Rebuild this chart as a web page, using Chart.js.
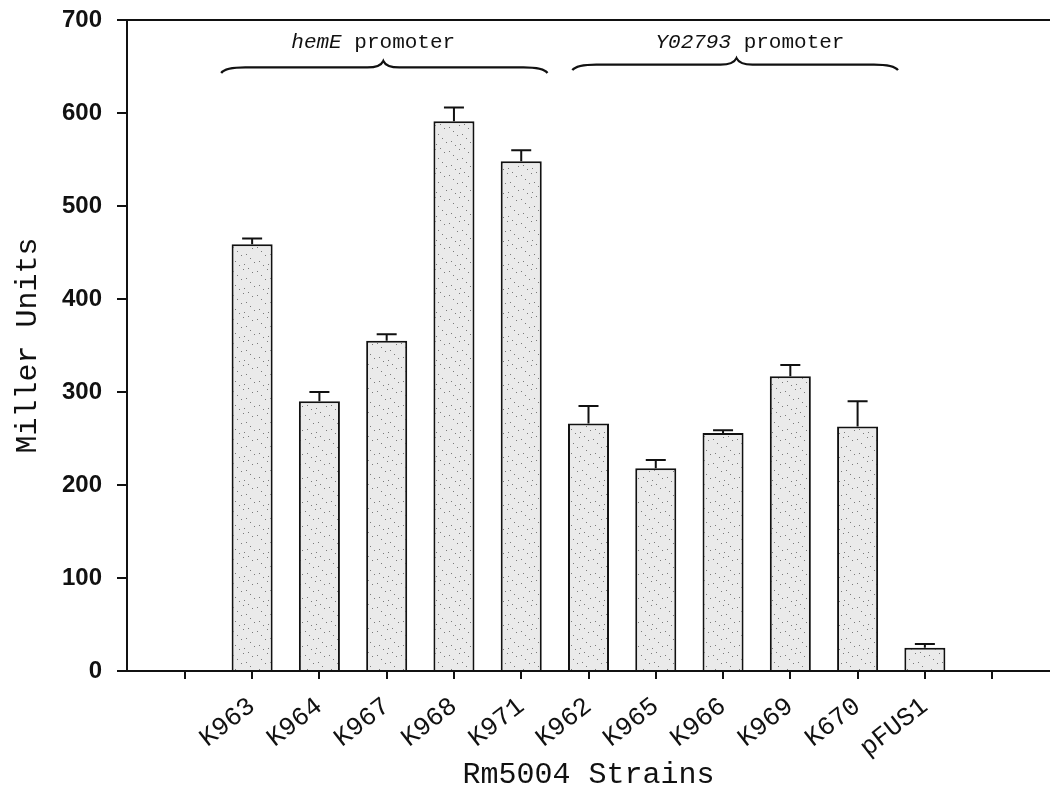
<!DOCTYPE html>
<html>
<head>
<meta charset="utf-8">
<script src="https://cdn.jsdelivr.net/npm/chart.js@4"></script>
<style>
  body{ margin:0; background:#fff; }
</style>
</head>
<body>
<canvas id="strainChart" width="1050" height="794"></canvas>
<script>
// values
const strains = ["K963","K964","K967","K968","K971","K962","K965","K966","K969","K670","pFUS1"];
const millerUnits = [459, 290, 355, 591, 548, 266, 218, 256, 317, 263, 25];
const errorUp = [6, 10, 7, 15, 12, 19, 9, 3, 12, 27, 4];
const slots = [0,1,2,3,4,5,6,7,8,9,10,11,12];
const yTicks = [0,100,200,300,400,500,600,700];
const groupItalic = ["hemE", "Y02793"];
const groupRest = [" promoter", " promoter"];

// light speckled fill like the scanned bars
function speckle(){
    const c = document.createElement("canvas");
    c.width = 24; c.height = 24;
    const g = c.getContext("2d");
    g.fillStyle = "#eaeaea";
    g.fillRect(0, 0, 24, 24);
    g.fillStyle = "#7a7a7a";
    for(let k = 0; k < 12; k++){
        g.fillRect((k * 11 + 3) % 24, (k * 17 + 5) % 24, 1, 1);
    }
    return g.createPattern(c, "repeat");
}

const errorBars = {
    id: "errorBars",
    afterDatasetsDraw(chart){
        const {ctx, scales: {y}} = chart;
        const meta = chart.getDatasetMeta(0);
        ctx.save();
        ctx.strokeStyle = "#111";
        ctx.lineWidth = 2;
        meta.data.forEach((bar, i) => {
            const top = y.getPixelForValue(millerUnits[i] + errorUp[i]);
            ctx.beginPath();
            ctx.moveTo(bar.x, bar.y);
            ctx.lineTo(bar.x, top);
            ctx.moveTo(bar.x - 10, top);
            ctx.lineTo(bar.x + 10, top);
            ctx.stroke();
        });
        ctx.restore();
    }
};

// top frame line + the two braces with their labels
const braces = {
    id: "braces",
    afterDraw(chart, args, opts){
        const {ctx, chartArea, scales: {x, y}} = chart;
        ctx.save();
        ctx.strokeStyle = "#111";
        ctx.lineWidth = 2;
        ctx.beginPath();
        ctx.moveTo(chartArea.left, chartArea.top);
        ctx.lineTo(chartArea.right, chartArea.top);
        ctx.stroke();

        opts.spans.forEach((s, i) => {
            const x0 = x.getPixelForValue(s.from);
            const x1 = x.getPixelForValue(s.to);
            const xc = x.getPixelForValue(s.mid);
            const yE = y.getPixelForValue(s.level - 6);
            const yH = y.getPixelForValue(s.level);
            const yP = y.getPixelForValue(s.level + 7);
            ctx.lineWidth = 2.2;
            ctx.beginPath();
            ctx.moveTo(x0, yE);
            ctx.quadraticCurveTo(x0 + 4, yH, x0 + 24, yH);
            ctx.lineTo(xc - 16, yH);
            ctx.quadraticCurveTo(xc - 3, yH, xc, yP);
            ctx.quadraticCurveTo(xc + 3, yH, xc + 16, yH);
            ctx.lineTo(x1 - 24, yH);
            ctx.quadraticCurveTo(x1 - 4, yH, x1, yE);
            ctx.stroke();

            const ty = y.getPixelForValue(opts.textLevel);
            ctx.fillStyle = "#111";
            ctx.textBaseline = "alphabetic";
            ctx.font = "italic 21px 'Liberation Mono'";
            const w1 = ctx.measureText(groupItalic[i]).width;
            ctx.font = "21px 'Liberation Mono'";
            const w2 = ctx.measureText(groupRest[i]).width;
            const tx = x.getPixelForValue(s.text) - (w1 + w2) / 2;
            ctx.font = "italic 21px 'Liberation Mono'";
            ctx.fillText(groupItalic[i], tx, ty);
            ctx.font = "21px 'Liberation Mono'";
            ctx.fillText(groupRest[i], tx + w1, ty);
        });
        ctx.restore();
    }
};

new Chart(document.getElementById("strainChart"), {

    type: "bar",

    data: {
        datasets: [{
            data: millerUnits.map((v, i) => ({x: i + 1, y: v})),
            backgroundColor: speckle(),
            borderColor: "#111",
            borderWidth: 2,
            barPercentage: 0.61,
            categoryPercentage: 1
        }]
    },

    options: {
        responsive: false,
        animation: false,
        layout: { padding: { top: 20, right: 0, bottom: 0, left: 0 } },
        plugins: {
            legend: { display: false },
            tooltip: { enabled: false },
            braces: {
                textLevel: 670,
                spans: [
                    { from: 0.54, to: 5.39, mid: 2.95, text: 2.8, level: 649 },
                    { from: 5.76, to: 10.6, mid: 8.2, text: 8.4, level: 652 }
                ]
            }
        },
        scales: {
            x: {
                type: "linear",
                min: -0.86,
                max: 12.86,
                offset: false,
                afterBuildTicks: s => { s.ticks = slots.map(v => ({value: v})); },
                afterFit: s => { s.height = 123; },
                grid: { offset: false, drawOnChartArea: false, drawTicks: true, tickLength: 8, color: "#111", lineWidth: 2 },
                border: { color: "#111", width: 2 },
                ticks: {
                    autoSkip: false,
                    minRotation: 38,
                    maxRotation: 38,
                    padding: 12,
                    color: "#111",
                    font: { family: "Liberation Mono", size: 26 },
                    callback: v => strains[v - 1] || ""
                },
                title: {
                    display: true,
                    text: "Rm5004 Strains",
                    color: "#111",
                    font: { family: "Liberation Mono", size: 30 },
                    padding: { top: 0, bottom: 1 }
                }
            },
            y: {
                min: 0,
                max: 700,
                afterBuildTicks: s => { s.ticks = yTicks.map(v => ({value: v})); },
                afterFit: s => { s.width = 127; s.paddingTop = 0; s.paddingBottom = 0; },
                grid: { drawOnChartArea: false, drawTicks: true, tickLength: 10, color: "#111", lineWidth: 2 },
                border: { color: "#111", width: 2 },
                ticks: {
                    padding: 15,
                    color: "#111",
                    font: { family: "Liberation Sans", size: 24, weight: "bold" }
                },
                title: {
                    display: true,
                    text: "Miller Units",
                    color: "#111",
                    font: { family: "Liberation Mono", size: 30 },
                    padding: { top: 10, bottom: 0 }
                }
            }
        }
    },

    plugins: [errorBars, braces]

});
</script>
</body>
</html>
